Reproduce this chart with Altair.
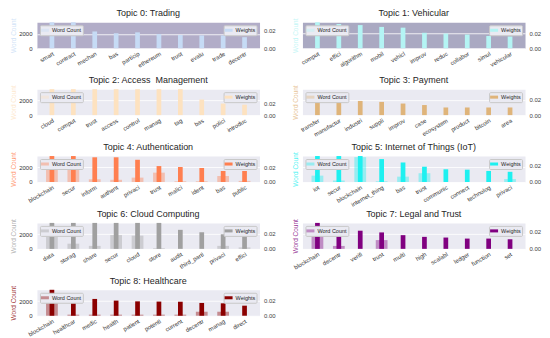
import altair as alt
import pandas as pd

titles = [
    "Topic 0: Trading", "Topic 1: Vehicular", "Topic 2: Access\u00a0 Management",
    "Topic 3: Payment", "Topic 4: Authentication", "Topic 5: Internet of Things (IoT)",
    "Topic 6: Cloud Computing", "Topic 7: Legal and Trust", "Topic 8: Healthcare",
]

words0 = ["smart", "contract", "mechan", "bas", "particip", "ethereum", "trust", "evalu", "trade", "decentr"]
words1 = ["comput", "effici", "algorithm", "mobil", "vehicl", "improv", "reduc", "collabor", "simul", "vehicular"]
words2 = ["cloud", "comput", "trust", "access", "control", "manag", "tag", "bas", "polici", "introduc"]
words3 = ["transfer", "manufactur", "industri", "suppli", "improv", "case", "ecosystem", "product", "bitcoin", "area"]
words4 = ["blockchain", "secur", "inform", "authent", "privaci", "trust", "malici", "ident", "bas", "public"]
words5 = ["iot", "secur", "blockchain", "internet_thing", "bas", "trust", "communic", "connect", "technolog", "privaci"]
words6 = ["data", "storag", "share", "secur", "cloud", "store", "audit", "third_parti", "privaci", "effici"]
words7 = ["blockchain", "decentr", "verifi", "trust", "multi", "high", "scalabl", "ledger", "function", "set"]
words8 = ["blockchain", "healthcar", "medic", "health", "patient", "potenti", "current", "decentr", "manag", "direct"]

weights0 = [0.0294, 0.0294, 0.019, 0.017, 0.018, 0.016, 0.015, 0.0145, 0.0145, 0.0125]
weights1 = [0.0353, 0.033, 0.0315, 0.029, 0.028, 0.021, 0.020, 0.0186, 0.0167, 0.016]
weights2 = [0.045, 0.045, 0.045, 0.045, 0.045, 0.045, 0.045, 0.027, 0.020, 0.018]
weights3 = [0.019, 0.019, 0.018, 0.0168, 0.0147, 0.0128, 0.0097, 0.0097, 0.0097, 0.0097]
weights4 = [0.0347, 0.0347, 0.033, 0.033, 0.0297, 0.0213, 0.020, 0.0187, 0.0147, 0.0147]
weights5 = [0.0306, 0.0306, 0.0306, 0.027, 0.023, 0.018, 0.015, 0.0145, 0.013, 0.012]
weights6 = [0.0333, 0.0333, 0.0333, 0.0333, 0.0333, 0.0333, 0.0244, 0.0213, 0.0187, 0.0187]
weights7 = [0.0303, 0.0224, 0.0212, 0.0192, 0.016, 0.014, 0.0132, 0.012, 0.012, 0.0112]
weights8 = [0.0343, 0.023, 0.0222, 0.020, 0.019, 0.0187, 0.0185, 0.0169, 0.0164, 0.0133]

counts0 = [0, 0, 0, 0, 0, 0, 0, 0, 0, 0]
counts1 = [0, 0, 0, 0, 0, 0, 0, 0, 0, 0]
counts2 = [0, 0, 0, 0, 0, 0, 0, 0, 0, 0]
counts3 = [0, 0, 0, 0, 0, 0, 0, 0, 0, 0]
counts4 = [2050, 1950, 370, 300, 600, 1280, 100, 100, 820, 150]
counts5 = [870, 200, 3400, 100, 730, 1200, 0, 0, 0, 400]
counts6 = [1960, 700, 400, 1860, 1780, 100, 0, 0, 400, 200]
counts7 = [1900, 400, 0, 1200, 0, 0, 0, 0, 0, 0]
counts8 = [1950, 150, 150, 150, 150, 150, 150, 550, 550, 0]

words = [words0, words1, words2, words3, words4, words5, words6, words7, words8]
weights = [weights0, weights1, weights2, weights3, weights4, weights5, weights6, weights7, weights8]
counts = [counts0, counts1, counts2, counts3, counts4, counts5, counts6, counts7, counts8]

colors = ["#c6dbf5", "#b4f4f4", "#fde2c0", "#dfb47a", "#ff7f50", "#1ef0f0", "#a0a0a0", "#800080", "#8b0000"]
backgrounds = ["#b2adc8", "#aaa9c2", "#eaeaf2", "#eaeaf2", "#eaeaf2", "#eaeaf2", "#eaeaf2", "#eaeaf2", "#eaeaf2"]
weight_max = [0.0294, 0.0353, 0.045, 0.033, 0.0347, 0.0306, 0.0333, 0.0303, 0.0343]
count_max = [3600, 3550, 3500, 3550, 3560, 3550, 3500, 3550, 3560]

FONT = "Liberation Sans"
RECT = "M-1,-0.38L1,-0.38L1,0.38L-1,0.38Z"


def legend(orient):
    return alt.Legend(
        orient=orient, title=None, labelFontSize=5.5, labelColor="#262626",
        symbolType=RECT, symbolSize=64, symbolStrokeWidth=0,
        fillColor="#eaeaf2", strokeColor="#c8c8c8", padding=1, offset=3,
        labelOffset=3, cornerRadius=1, labelFont=FONT,
    )


def panel(i, left_col):
    df = pd.DataFrame({"word": words[i], "wc": counts[i], "w": weights[i]})
    df["s1"] = "Word Count"
    df["s2"] = "Weights"
    xenc = alt.X(
        "word:N", sort=words[i], title=None,
        scale=alt.Scale(paddingInner=0, paddingOuter=0.2),
        axis=alt.Axis(labelAngle=-30, labelAlign="right", labelBaseline="top",
                      labelFontSize=6, labelPadding=2, labelColor="#333333",
                      ticks=False, domain=False, grid=False),
    )
    wc = alt.Chart(df).mark_bar(width=alt.RelativeBandSize(0.55), opacity=0.4).encode(
        x=xenc,
        y=alt.Y("wc:Q", title="Word Count",
                scale=alt.Scale(domain=[0, count_max[i]], nice=False, clamp=True),
                axis=alt.Axis(values=[0, 2000], format="d", labels=left_col, labelFontSize=6,
                              labelPadding=5, labelColor="#333333", ticks=False,
                              domain=False, grid=True, gridColor="white", gridWidth=0.8,
                              titleFontSize=6.5, titleFontWeight="normal",
                              titleColor=colors[i], titleOpacity=0.8,
                              titlePadding=2 if left_col else 4)),
        color=alt.Color("s1:N", scale=alt.Scale(domain=["Word Count"], range=[colors[i]]),
                        legend=legend("top-left")),
    )
    wt = alt.Chart(df).mark_bar(width=alt.RelativeBandSize(0.22)).encode(
        x=xenc,
        y=alt.Y("w:Q", title=None,
                scale=alt.Scale(domain=[0, weight_max[i]], nice=False, clamp=True),
                axis=alt.Axis(orient="right", values=[0, 0.02], format=".2f",
                              labelFontSize=6, labelPadding=4, labelColor="#444444",
                              ticks=False, domain=False, grid=False)),
        color=alt.Color("s2:N", scale=alt.Scale(domain=["Weights"], range=[colors[i]]),
                        legend=legend("top-right")),
    )
    return alt.layer(wc, wt).resolve_scale(y="independent", color="independent").properties(
        width=223, height=26,
        view=alt.ViewBackground(fill=backgrounds[i], stroke="transparent"),
        title=alt.TitleParams(titles[i], fontSize=9, font=FONT, fontWeight="normal",
                              color="#262626", offset=0),
    )


panels = [panel(i, i % 2 == 0) for i in range(9)]

chart = alt.concat(*panels, columns=2, spacing={"row": 41, "column": 43}, bounds="flush").properties(
    padding={"left": 2, "top": 0, "right": 0, "bottom": 0}
).configure(font=FONT).configure_view(stroke="transparent")

chart.save("out.html", embed_options={"renderer": "svg", "actions": False})
